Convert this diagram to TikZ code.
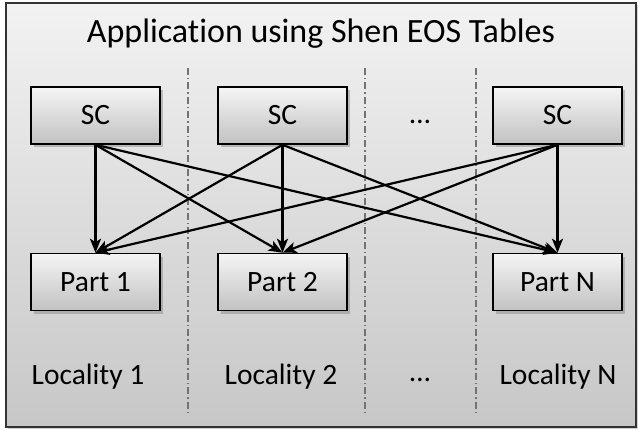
\documentclass[tikz,border=0pt]{standalone}
\usepackage{fontspec}
\setmainfont[Ligatures=NoCommon]{Carlito}
\usetikzlibrary{shadows,arrows.meta}
\begin{document}
\begin{tikzpicture}[x=1pt,y=-1pt,
  outer/.style={draw=black!80, line width=1.4pt, top color=black!5, bottom color=black!22,
    minimum width=630pt, minimum height=424pt, inner sep=0pt,
    drop shadow={opacity=0.35, shadow xshift=2pt, shadow yshift=-2pt}},
  box/.style={draw=black, line width=1.6pt, top color=black!4, bottom color=black!24,
    minimum width=129pt, minimum height=57pt, inner sep=0pt,
    font=\fontsize{29.5}{34}\selectfont,
    drop shadow={opacity=0.45, shadow xshift=2.5pt, shadow yshift=-3.5pt}},
  lbl/.style={font=\fontsize{29.5}{34}\selectfont, inner sep=0pt},
  arr/.style={line width=2.2pt, -{Stealth[length=14pt,width=11pt,inset=3.5pt]}},
  sep/.style={draw=black!55, line width=1.2pt, dash pattern=on 7pt off 3pt on 1.5pt off 3pt}
]
\useasboundingbox (0,0) rectangle (642,430);
\node[outer] (app) at (321,215) {};
\node[font=\fontsize{34}{39}\selectfont, inner sep=0pt] (title) at (321,34) {Application using Shen EOS Tables};

\coordinate (d1t) at (188,68);  \coordinate (d1b) at (188,413);
\coordinate (d2t) at (365,68);  \coordinate (d2b) at (365,413);
\coordinate (d3t) at (476,68);  \coordinate (d3b) at (476,413);
\draw[sep] (d1t) -- (d1b);
\draw[sep] (d2t) -- (d2b);
\draw[sep] (d3t) -- (d3b);

\node[box] (sc1) at (95.5,115.5) {SC};
\node[box] (sc2) at (282.5,115.5) {SC};
\node[box] (scn) at (557.5,115.5) {SC};
\node[lbl] (dots1) at (420,122) {\dots};

\node[box] (p1) at (95.5,282) {Part 1};
\node[box] (p2) at (282.5,282) {Part 2};
\node[box] (pn) at (557.5,282) {Part N};

\foreach \s in {sc1,sc2,scn}{
  \foreach \p in {p1,p2,pn}{
    \draw[arr] (\s.south) -- (\p.north);
  }
}

\node[lbl] (l1) at (88,377) {Locality 1};
\node[lbl] (l2) at (281,377) {Locality 2};
\node[lbl] (dots2) at (420,380) {\dots};
\node[lbl] (ln) at (558,377) {Locality N};
\end{tikzpicture}
\end{document}
